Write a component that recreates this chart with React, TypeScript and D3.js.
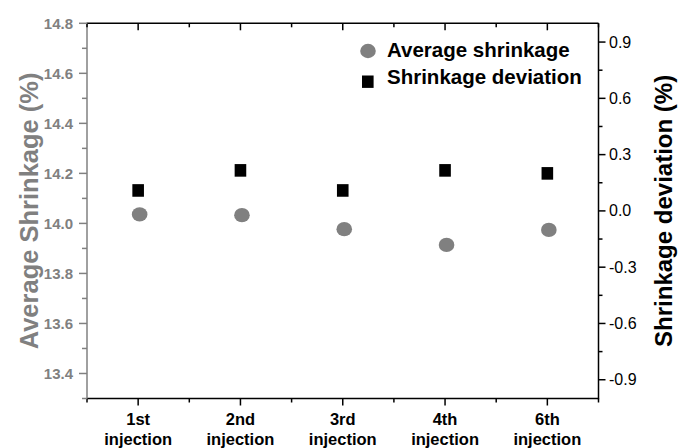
import React from "react";
import * as d3 from "d3";

const categories = ["1st|injection", "2nd|injection", "3rd|injection", "4th|injection", "6th|injection"];
const avgShrinkage = [14.036, 14.033, 13.977, 13.914, 13.974];
const shrinkDeviation = [0.109, 0.216, 0.109, 0.216, 0.2];
const leftTicks = [13.4, 13.6, 13.8, 14.0, 14.2, 14.4, 14.6, 14.8];
const leftMinor = [13.3, 13.5, 13.7, 13.9, 14.1, 14.3, 14.5, 14.7];
const rightTicks = [-0.9, -0.6, -0.3, 0.0, 0.3, 0.6, 0.9];
const rightMinor = [-0.75, -0.45, -0.15, 0.15, 0.45, 0.75];

const W = 678, H = 448;
const L = 87, R = 598.5, T = 23.3, B = 398.5;
const GRAY = "#808080";
const FONT = "Arial, 'Liberation Sans', sans-serif";

export default function App() {
  const x = d3.scaleLinear().domain([0.5, 5.5]).range([L, R]);
  const yL = d3.scaleLinear().domain([13.3, 14.8]).range([B, T]);
  const yR = d3.scaleLinear().domain([-1, 1]).range([B, T]);
  const majorX = d3.range(1, categories.length + 1);
  const minorX = d3.range(0.5, categories.length + 1, 1);

  return (
    <svg width={W} height={H} style={{ position: "absolute", left: 0, top: 0, background: "#fff" }} fontFamily={FONT}>
      <rect x={0} y={0} width={W} height={H} fill="#fff" />
      {/* frame */}
      <line x1={L} x2={R} y1={T} y2={T} stroke="#000" strokeWidth={1.5} />
      <line x1={L} x2={R} y1={B} y2={B} stroke="#000" strokeWidth={1.5} />
      <line x1={R} x2={R} y1={T} y2={B + 0.75} stroke="#000" strokeWidth={1.5} />
      <line x1={L} x2={L} y1={T - 0.75} y2={B + 0.75} stroke={GRAY} strokeWidth={1.5} />

      {/* bottom & top ticks */}
      {majorX.map((v) => (
        <g key={"mx" + v}>
          <line x1={x(v)} x2={x(v)} y1={B} y2={B + 7} stroke="#000" strokeWidth={1.5} />
          <line x1={x(v)} x2={x(v)} y1={T} y2={T + 7} stroke="#000" strokeWidth={1.5} />
        </g>
      ))}
      {minorX.map((v) => (
        <g key={"nx" + v}>
          <line x1={x(v)} x2={x(v)} y1={B} y2={B + 4} stroke="#000" strokeWidth={1.5} />
          <line x1={x(v)} x2={x(v)} y1={T} y2={T + 4} stroke="#000" strokeWidth={1.5} />
        </g>
      ))}
      {categories.map((c, i) => {
        const [a, b] = c.split("|");
        return (
          <text key={c} x={x(i + 1)} textAnchor="middle" fontWeight="bold" fontSize={16.5} fill="#000">
            <tspan x={x(i + 1)} y={425}>{a}</tspan>
            <tspan x={x(i + 1)} y={445}>{b}</tspan>
          </text>
        );
      })}

      {/* left axis */}
      {leftTicks.map((v) => (
        <g key={"lt" + v}>
          <line x1={L - 8} x2={L} y1={yL(v)} y2={yL(v)} stroke={GRAY} strokeWidth={1.5} />
          <text x={73} y={yL(v) + 5.2} textAnchor="end" fontSize={15} fontWeight="bold" fill={GRAY}>
            {v.toFixed(1)}
          </text>
        </g>
      ))}
      {leftMinor.map((v) => (
        <line key={"lm" + v} x1={L - 5} x2={L} y1={yL(v)} y2={yL(v)} stroke={GRAY} strokeWidth={1.5} />
      ))}
      <text
        transform={`translate(38,${(T + B) / 2}) rotate(-90)`}
        textAnchor="middle"
        fontSize={25.5}
        fontWeight="bold"
        fill={GRAY}
      >
        Average Shrinkage (%)
      </text>

      {/* right axis */}
      {rightTicks.map((v) => (
        <g key={"rt" + v}>
          <line x1={R} x2={R + 7} y1={yR(v)} y2={yR(v)} stroke="#000" strokeWidth={1.5} />
          <text x={609} y={yR(v) + 5.5} textAnchor="start" fontSize={16} fill="#000">
            {v.toFixed(1)}
          </text>
        </g>
      ))}
      {rightMinor.map((v) => (
        <line key={"rm" + v} x1={R} x2={R + 4} y1={yR(v)} y2={yR(v)} stroke="#000" strokeWidth={1.5} />
      ))}
      <text
        transform={`translate(672,${(T + B) / 2}) rotate(-90)`}
        textAnchor="middle"
        fontSize={24}
        fontWeight="bold"
        fill="#000"
      >
        Shrinkage deviation (%)
      </text>

      {/* data */}
      {avgShrinkage.map((v, i) => (
        <ellipse key={"c" + i} cx={x(i + 1) + 1.5} cy={yL(v)} rx={7.8} ry={7.2} fill={GRAY} />
      ))}
      {shrinkDeviation.map((v, i) => (
        <rect key={"s" + i} x={x(i + 1) - 5.8} y={yR(v) - 6.3} width={11.6} height={12.6} fill="#000" />
      ))}

      {/* legend */}
      <ellipse cx={368} cy={51} rx={7.8} ry={7.2} fill={GRAY} />
      <text x={387} y={57} fontSize={20.5} fontWeight="bold" fill="#000">Average shrinkage</text>
      <rect x={362} y={75.5} width={11.6} height={12.4} fill="#000" />
      <text x={387} y={84} fontSize={20.5} fontWeight="bold" fill="#000">Shrinkage deviation</text>
    </svg>
  );
}
